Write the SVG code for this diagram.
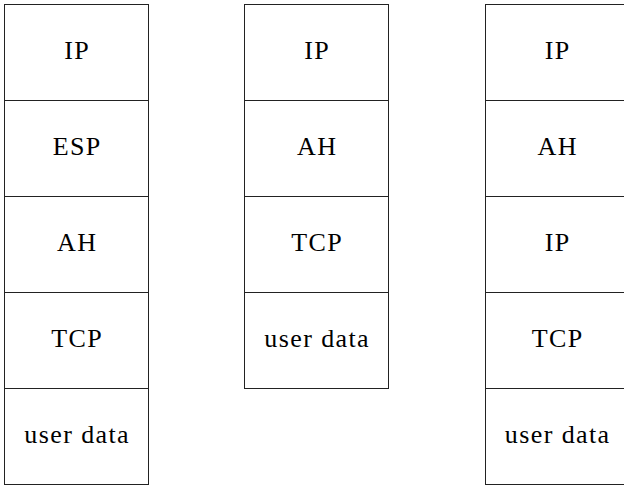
<svg xmlns="http://www.w3.org/2000/svg" width="624" height="485" viewBox="0 0 624 485">
<style>
rect{fill:#fff;stroke:#222;stroke-width:1}
text{font-family:"Liberation Serif",serif;font-size:26px;text-anchor:middle;fill:#000;letter-spacing:1.4px}
</style>
<rect x="0" y="0" width="624" height="485" style="stroke:none"/>
<g id="stack1">
<g id="s1-ip"><rect x="4.5" y="4.5" width="144" height="96"/><text x="77.2" y="58.5">IP</text></g>
<g id="s1-esp"><rect x="4.5" y="100.5" width="144" height="96"/><text x="77.2" y="154.5">ESP</text></g>
<g id="s1-ah"><rect x="4.5" y="196.5" width="144" height="96"/><text x="77.2" y="250.5">AH</text></g>
<g id="s1-tcp"><rect x="4.5" y="292.5" width="144" height="96"/><text x="77.2" y="346.5">TCP</text></g>
<g id="s1-data"><rect x="4.5" y="388.5" width="144" height="96"/><text x="77.2" y="442.5">user data</text></g>
</g>
<g id="stack2">
<g id="s2-ip"><rect x="244.5" y="4.5" width="144" height="96"/><text x="317.2" y="58.5">IP</text></g>
<g id="s2-ah"><rect x="244.5" y="100.5" width="144" height="96"/><text x="317.2" y="154.5">AH</text></g>
<g id="s2-tcp"><rect x="244.5" y="196.5" width="144" height="96"/><text x="317.2" y="250.5">TCP</text></g>
<g id="s2-data"><rect x="244.5" y="292.5" width="144" height="96"/><text x="317.2" y="346.5">user data</text></g>
</g>
<g id="stack3">
<g id="s3-ip"><rect x="485.5" y="4.5" width="144" height="96"/><text x="557.7" y="58.5">IP</text></g>
<g id="s3-ah"><rect x="485.5" y="100.5" width="144" height="96"/><text x="557.7" y="154.5">AH</text></g>
<g id="s3-ip2"><rect x="485.5" y="196.5" width="144" height="96"/><text x="557.7" y="250.5">IP</text></g>
<g id="s3-tcp"><rect x="485.5" y="292.5" width="144" height="96"/><text x="557.7" y="346.5">TCP</text></g>
<g id="s3-data"><rect x="485.5" y="388.5" width="144" height="96"/><text x="557.7" y="442.5">user data</text></g>
</g>
<g id="connectors"/>
</svg>
